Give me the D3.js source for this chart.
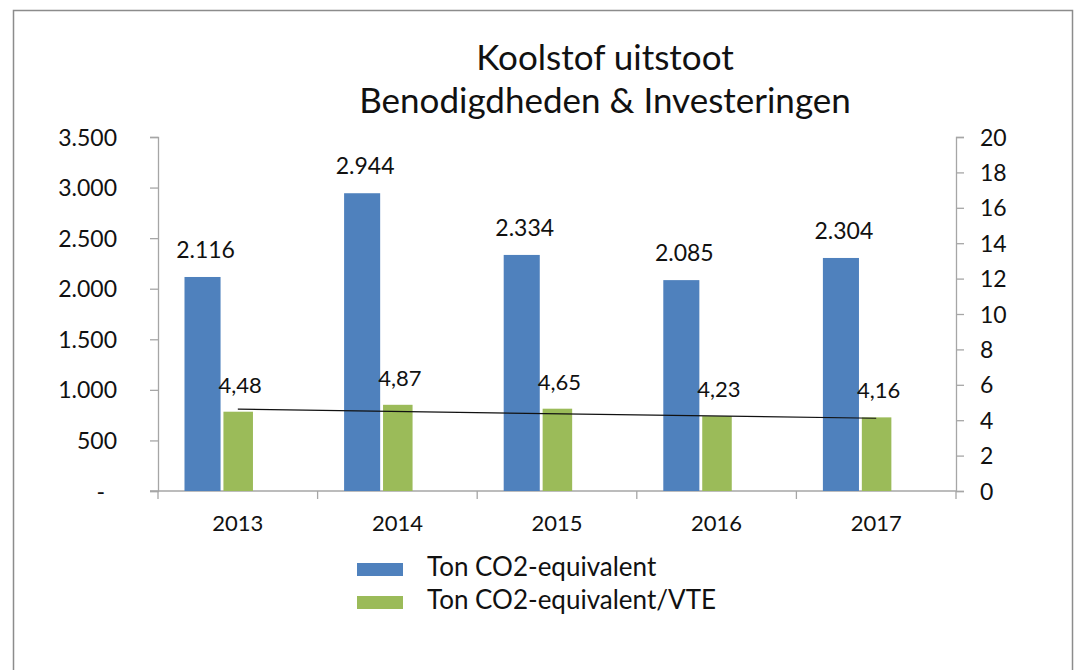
<!DOCTYPE html>
<meta charset="utf-8">
<script src="https://d3js.org/d3.v7.min.js"></script>
<head>
    <title>Koolstof uitstoot</title>
    <style>
        body { margin: 0; background: #fff; }
        text { font-family: Lato, "Open Sans", sans-serif; fill: #111; }
    </style>
</head>
<body>
    <div id="chart"></div>
</body>
<script>
    // data
    const years = ["2013", "2014", "2015", "2016", "2017"];
    const tonCO2 = [2116, 2944, 2334, 2085, 2304];
    const tonPerVTE = [4.48, 4.87, 4.65, 4.23, 4.16];
    const titleLines = ["Koolstof uitstoot", "Benodigdheden & Investeringen"];
    const seriesNames = ["Ton CO2-equivalent", "Ton CO2-equivalent/VTE"];
    const leftTicks = [0, 500, 1000, 1500, 2000, 2500, 3000, 3500];
    const rightTicks = [0, 2, 4, 6, 8, 10, 12, 14, 16, 18, 20];
    const colors = ["#4f81bd", "#9bbb59"];

    const W = 1084, H = 670;
    const plot = {left: 158, right: 956, top: 137, bottom: 491};

    const svg = d3.select("#chart")
        .append("svg")
        .attr("width", W)
        .attr("height", H);

    // outer frame of the chart
    svg.append("rect")
        .attr("x", 13.5).attr("y", 10.5)
        .attr("width", 1059).attr("height", 700)
        .attr("fill", "none")
        .attr("stroke", "#8c8c8c")
        .attr("stroke-width", 1.5);

    const x = d3.scaleBand()
        .domain(years)
        .range([plot.left, plot.right]);

    const yLeft = d3.scaleLinear()
        .domain([0, 3500])
        .range([plot.bottom, plot.top]);

    const yRight = d3.scaleLinear()
        .domain([0, 20])
        .range([plot.bottom, plot.top]);

    const bw = x.bandwidth();

    // title
    svg.append("g")
        .selectAll("text")
        .data(titleLines)
        .join("text")
        .attr("x", 605)
        .attr("y", (d, i) => 70 + i * 43)
        .attr("text-anchor", "middle")
        .style("font-size", "35px")
        .text(d => d);

    // left axis
    const fmtLeft = d => d === 0 ? "-" : d3.format(",")(d).replace(/,/g, ".");
    const gl = svg.append("g")
        .attr("transform", `translate(${plot.left},0)`)
        .call(d3.axisLeft(yLeft).tickValues(leftTicks).tickSize(8).tickPadding(33).tickFormat(fmtLeft));
    gl.selectAll("text").style("font-size", "23px").attr("dy", "0.35em")
        .attr("transform", d => d === 0 ? "translate(-12,0)" : null);

    // right axis
    const gr = svg.append("g")
        .attr("transform", `translate(${plot.right},0)`)
        .call(d3.axisRight(yRight).tickValues(rightTicks).tickSize(8).tickPadding(16));
    gr.selectAll("text").style("font-size", "23px").attr("dy", "0.35em");

    [gl, gr].forEach(g => {
        g.select(".domain").attr("stroke", "#a6a6a6").attr("stroke-width", 1.3);
        g.selectAll(".tick line").attr("stroke", "#a6a6a6").attr("stroke-width", 1.3);
    });

    // x axis: baseline, boundary ticks and labels
    svg.append("line")
        .attr("x1", plot.left - 8).attr("x2", plot.right)
        .attr("y1", plot.bottom).attr("y2", plot.bottom)
        .attr("stroke", "#a6a6a6").attr("stroke-width", 1.3);

    svg.append("g")
        .selectAll("line")
        .data(years.concat(["end"]))
        .join("line")
        .attr("x1", (d, i) => plot.left + i * bw)
        .attr("x2", (d, i) => plot.left + i * bw)
        .attr("y1", plot.bottom)
        .attr("y2", plot.bottom + 8)
        .attr("stroke", "#a6a6a6").attr("stroke-width", 1.3);

    svg.append("g")
        .selectAll("text")
        .data(years)
        .join("text")
        .attr("x", d => x(d) + bw / 2)
        .attr("y", plot.bottom + 40)
        .attr("text-anchor", "middle")
        .style("font-size", "22px")
        .text(d => d);

    // bars
    const blueX = d => x(d) + bw * 0.166, blueW = bw * 0.226;
    const greenX = d => x(d) + bw * 0.41, greenW = bw * 0.185;

    svg.append("g")
        .selectAll("rect")
        .data(years)
        .join("rect")
        .attr("x", blueX)
        .attr("width", blueW)
        .attr("y", (d, i) => yLeft(tonCO2[i]))
        .attr("height", (d, i) => plot.bottom - yLeft(tonCO2[i]))
        .attr("fill", colors[0]);

    svg.append("g")
        .selectAll("rect")
        .data(years)
        .join("rect")
        .attr("x", greenX)
        .attr("width", greenW)
        .attr("y", (d, i) => yRight(tonPerVTE[i]))
        .attr("height", (d, i) => plot.bottom - yRight(tonPerVTE[i]))
        .attr("fill", colors[1]);

    // linear trendline of the VTE series
    const xs = years.map((d, i) => i);
    const mx = d3.mean(xs), my = d3.mean(tonPerVTE);
    const slope = d3.sum(xs, (v, i) => (v - mx) * (tonPerVTE[i] - my)) / d3.sum(xs, v => (v - mx) ** 2);
    const trend = i => my + slope * (i - mx);
    svg.append("line")
        .attr("x1", x(years[0]) + bw / 2)
        .attr("x2", x(years[years.length - 1]) + bw / 2)
        .attr("y1", yRight(trend(0)) + 2)
        .attr("y2", yRight(trend(years.length - 1)) + 2)
        .attr("stroke", "#111")
        .attr("stroke-width", 1.2);

    // value labels
    svg.append("g")
        .selectAll("text")
        .data(years)
        .join("text")
        .attr("x", d => blueX(d) + blueW / 2 + 3)
        .attr("y", (d, i) => yLeft(tonCO2[i]) - 19)
        .attr("text-anchor", "middle")
        .style("font-size", "23px")
        .text((d, i) => d3.format(",")(tonCO2[i]).replace(/,/g, "."));

    svg.append("g")
        .selectAll("text")
        .data(years)
        .join("text")
        .attr("x", d => greenX(d) + greenW / 2 + 2)
        .attr("y", (d, i) => yRight(tonPerVTE[i]) - 19)
        .attr("text-anchor", "middle")
        .style("font-size", "22px")
        .text((d, i) => tonPerVTE[i].toFixed(2).replace(".", ","));

    // legend
    const lg = svg.append("g")
        .selectAll("g")
        .data(seriesNames)
        .join("g")
        .attr("transform", (d, i) => `translate(357,${563 + i * 33})`);
    lg.append("rect")
        .attr("width", 46).attr("height", 13)
        .attr("fill", (d, i) => colors[i]);
    lg.append("text")
        .attr("x", 70).attr("y", 13)
        .style("font-size", "26px")
        .text(d => d);
</script>
